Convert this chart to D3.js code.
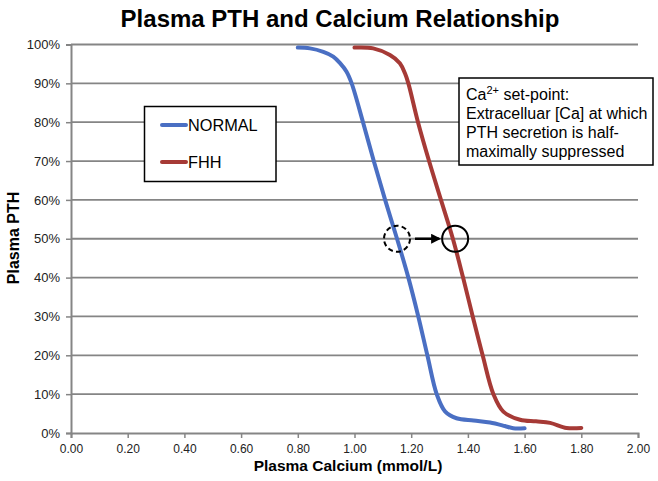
<!DOCTYPE html>
<html><head><meta charset="utf-8">
<script src="https://cdn.jsdelivr.net/npm/d3@7"></script>
<style>body{margin:0;background:#fff;} svg{display:block;font-family:Arial,"Liberation Sans",sans-serif;}</style>
</head><body>
<svg id="c" width="658" height="481"></svg>
<script>
// ---- data ----
const normalCa  = [0.80,0.843,0.89,0.925,0.949,0.972,0.99,1.03,1.068,1.108,1.15,1.19,1.225,1.257,1.29,1.32,1.36,1.42,1.478,1.53,1.56,1.60];
const normalPTH = [99.2,99.0,98.1,96.9,95.2,93,90,80,70,60,50,40,30,20,10,5.5,3.8,3.2,2.7,1.8,1.2,1.2];
const fhhCa     = [1.00,1.066,1.125,1.16,1.178,1.19,1.224,1.263,1.305,1.347,1.383,1.417,1.452,1.49,1.525,1.584,1.64,1.69,1.748,1.80];
const fhhPTH    = [99.2,99.0,97.3,95.2,92.6,90,80,70,60,50,40,30,20,10,5.5,3.4,3.0,2.6,1.3,1.3];
const seriesNames = ["NORMAL","FHH"];
const xTicks = [0,0.2,0.4,0.6,0.8,1.0,1.2,1.4,1.6,1.8,2.0];
const yTicks = [0,10,20,30,40,50,60,70,80,90,100];
const setPointCa = [1.15, 1.355];
const setPointPTH = 50;
const titleText = "Plasma PTH and Calcium Relationship";
const xTitle = "Plasma Calcium (mmol/L)";
const yTitle = "Plasma PTH";
const noteLines = ["set-point:", "Extracelluar [Ca] at which", "PTH secretion is half-", "maximally suppressed"];

// ---- chart ----
const svg = d3.select("#c");
const L = 71, R = 638, T = 44.5, B = 433;
const x = d3.scaleLinear().domain([0,2]).range([L,R]);
const y = d3.scaleLinear().domain([0,100]).range([B,T]);
const gridC = "#858585";
const blue = "#4a6fc3", red = "#a63a36";

svg.append("text").attr("x", 340).attr("y", 27).attr("text-anchor","middle")
  .attr("font-size", 24).attr("font-weight","bold").text(titleText);

// gridlines
svg.append("g").selectAll("line").data(yTicks.filter(d=>d>0)).join("line")
  .attr("x1", L).attr("x2", R).attr("y1", d=>y(d)).attr("y2", d=>y(d))
  .attr("stroke", gridC).attr("stroke-width", 1.8);

// y axis
const ya = svg.append("g").attr("transform",`translate(${L},0)`)
  .call(d3.axisLeft(y).tickValues(yTicks).tickFormat(d=>d+"%").tickSize(5).tickPadding(6));
ya.select(".domain").attr("stroke", gridC).attr("stroke-width", 2);
ya.selectAll(".tick line").attr("stroke", gridC).attr("stroke-width", 1.5);
ya.selectAll(".tick text").attr("font-size", 13).attr("fill","#222").attr("font-family","Arial,'Liberation Sans',sans-serif");

// x axis
const xa = svg.append("g").attr("transform",`translate(0,${B})`)
  .call(d3.axisBottom(x).tickValues(xTicks).tickFormat(d3.format(".2f")).tickSize(5).tickPadding(6));
xa.select(".domain").attr("stroke", gridC).attr("stroke-width", 2);
xa.selectAll(".tick line").attr("stroke", gridC).attr("stroke-width", 1.5);
xa.selectAll(".tick text").attr("font-size", 12).attr("fill","#222").attr("font-family","Arial,'Liberation Sans',sans-serif");

svg.append("text").attr("x", 348).attr("y", 471).attr("text-anchor","middle")
  .attr("font-size", 15.5).attr("font-weight","bold").text(xTitle);
svg.append("text").attr("transform","translate(19,238) rotate(-90)").attr("text-anchor","middle")
  .attr("font-size", 16).attr("font-weight","bold").text(yTitle);

// lines
const line = d3.line().x(d=>x(d[0])).y(d=>y(d[1])).curve(d3.curveCatmullRom.alpha(0.5));
const normal = normalCa.map((c,i)=>[c, normalPTH[i]]);
const fhh = fhhCa.map((c,i)=>[c, fhhPTH[i]]);
[[normal, blue],[fhh, red]].forEach(([d,c])=>{
  svg.append("path").datum(d).attr("d", line).attr("fill","none")
    .attr("stroke", c).attr("stroke-width", 4).attr("stroke-linecap","round").attr("stroke-linejoin","round");
});

// set-point circles and arrow
const r = 13;
svg.append("circle").attr("cx", x(setPointCa[0])).attr("cy", y(setPointPTH)).attr("r", r)
  .attr("fill","none").attr("stroke","#000").attr("stroke-width",2).attr("stroke-dasharray","5,3.2");
svg.append("circle").attr("cx", x(setPointCa[1])).attr("cy", y(setPointPTH)).attr("r", r)
  .attr("fill","none").attr("stroke","#000").attr("stroke-width",2);
svg.append("defs").append("marker").attr("id","ah").attr("viewBox","0 0 10 10").attr("refX",8).attr("refY",5)
  .attr("markerWidth",4).attr("markerHeight",4).attr("orient","auto")
  .append("path").attr("d","M0,0 L10,5 L0,10 z").attr("fill","#000");
svg.append("line").attr("x1", x(setPointCa[0])+r+5).attr("x2", x(setPointCa[1])-r-3)
  .attr("y1", y(setPointPTH)).attr("y2", y(setPointPTH))
  .attr("stroke","#000").attr("stroke-width",2.5).attr("marker-end","url(#ah)");

// legend
const lg = svg.append("g");
lg.append("rect").attr("x",144.5).attr("y",106.5).attr("width",131.5).attr("height",75)
  .attr("fill","#fff").attr("stroke","#000").attr("stroke-width",1.5);
seriesNames.forEach((n,i)=>{
  const yy = 125 + i*37;
  lg.append("line").attr("x1",162).attr("x2",186).attr("y1",yy).attr("y2",yy)
    .attr("stroke", i? red: blue).attr("stroke-width",4).attr("stroke-linecap","round");
  lg.append("text").attr("x",188).attr("y",yy+6).attr("font-size",16.3).text(n);
});

// annotation
const an = svg.append("g");
an.append("rect").attr("x",459).attr("y",78).attr("width",194).attr("height",87)
  .attr("fill","#fff").attr("stroke","#000").attr("stroke-width",1.5);
noteLines.forEach((t,i)=>{
  const tx = an.append("text").attr("x",466).attr("y",99.5 + i*19.3).attr("font-size",16);
  if(i===0){
    tx.append("tspan").text("Ca");
    tx.append("tspan").attr("font-size",11).attr("dy",-6).text("2+");
    tx.append("tspan").attr("dy",6).text(" " + t);
  } else tx.text(t);
});
</script>
</body></html>
